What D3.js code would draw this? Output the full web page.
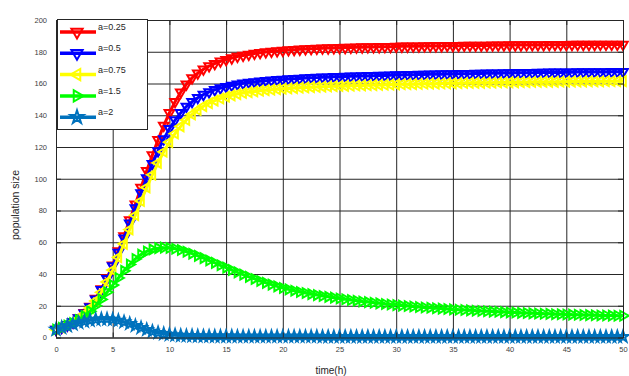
<!DOCTYPE html>
<html>
<head>
<meta charset="utf-8">
<script src="https://cdn.jsdelivr.net/npm/d3@7"></script>
<style>
  body { margin: 0; background: #fff; }
  svg { display: block; font-family: "Liberation Sans", Arial, sans-serif; }
</style>
</head>
<body>
<script>
const time = [
  0, 0.5, 1, 1.5, 2, 2.5, 3, 3.5, 4, 4.5,
  5, 5.5, 6, 6.5, 7, 7.5, 8, 8.5, 9, 9.5,
  10, 10.5, 11, 11.5, 12, 12.5, 13, 13.5, 14, 14.5,
  15, 15.5, 16, 16.5, 17, 17.5, 18, 18.5, 19, 19.5,
  20, 20.5, 21, 21.5, 22, 22.5, 23, 23.5, 24, 24.5,
  25, 25.5, 26, 26.5, 27, 27.5, 28, 28.5, 29, 29.5,
  30, 30.5, 31, 31.5, 32, 32.5, 33, 33.5, 34, 34.5,
  35, 35.5, 36, 36.5, 37, 37.5, 38, 38.5, 39, 39.5,
  40, 40.5, 41, 41.5, 42, 42.5, 43, 43.5, 44, 44.5,
  45, 45.5, 46, 46.5, 47, 47.5, 48, 48.5, 49, 49.5,
  50
]

const a025 = [
  5, 6.3, 7.8, 9.8, 12.3, 15.5, 19.5, 24.5, 30.5, 37.5,
  45.5, 54.5, 64, 74, 84, 94.5, 105, 115, 124.5, 133.5,
  141.5, 148.5, 154.5, 159.5, 163.5, 166.5, 169, 171, 172.5, 174,
  175, 176, 177, 177.7, 178.3, 178.9, 179.4, 179.8, 180.2, 180.5,
  180.8, 181.1, 181.3, 181.5, 181.7, 181.9, 182, 182.2, 182.3, 182.4,
  182.5, 182.6, 182.7, 182.8, 182.9, 183, 183, 183.1, 183.2, 183.2,
  183.3, 183.4, 183.4, 183.5, 183.5, 183.6, 183.6, 183.7, 183.7, 183.8,
  183.8, 183.8, 183.9, 183.9, 184, 184, 184, 184.1, 184.1, 184.1,
  184.2, 184.2, 184.2, 184.3, 184.3, 184.3, 184.3, 184.4, 184.4, 184.4,
  184.4, 184.5, 184.5, 184.5, 184.5, 184.5, 184.6, 184.6, 184.6, 184.6,
  184.6
]

const a05 = [
  5, 6.3, 7.8, 9.7, 12.2, 15.3, 19.2, 24, 30, 37,
  45, 53.5, 62.5, 72, 81.5, 91, 100.5, 109.5, 117.5, 125,
  131.5, 137, 141.5, 145.5, 148.5, 151, 153, 154.7, 156, 157.1,
  158, 158.8, 159.5, 160.1, 160.6, 161, 161.4, 161.7, 162, 162.3,
  162.5, 162.8, 163, 163.2, 163.4, 163.6, 163.7, 163.9, 164, 164.2,
  164.3, 164.4, 164.5, 164.6, 164.7, 164.8, 164.9, 165, 165.1, 165.2,
  165.3, 165.4, 165.5, 165.5, 165.6, 165.7, 165.8, 165.8, 165.9, 166,
  166, 166.1, 166.2, 166.2, 166.3, 166.3, 166.4, 166.5, 166.5, 166.6,
  166.6, 166.7, 166.7, 166.8, 166.8, 166.9, 166.9, 167, 167, 167,
  167.1, 167.1, 167.2, 167.2, 167.2, 167.3, 167.3, 167.3, 167.4, 167.4,
  167.4
]

const a075 = [
  5, 6.2, 7.6, 9.4, 11.8, 14.8, 18.5, 23, 28.5, 35,
  42.5, 50.5, 59, 68, 77, 86, 94.5, 102.5, 110, 117,
  123, 128.5, 133, 137, 140.5, 143.3, 145.7, 147.6, 149.2, 150.5,
  151.6, 152.5, 153.3, 154, 154.5, 155, 155.4, 155.8, 156.1, 156.4,
  156.7, 156.9, 157.1, 157.3, 157.5, 157.7, 157.8, 158, 158.1, 158.3,
  158.4, 158.5, 158.6, 158.7, 158.8, 158.9, 159, 159.1, 159.2, 159.3,
  159.4, 159.5, 159.6, 159.6, 159.7, 159.8, 159.9, 159.9, 160, 160.1,
  160.1, 160.2, 160.3, 160.3, 160.4, 160.4, 160.5, 160.5, 160.6, 160.6,
  160.7, 160.7, 160.8, 160.8, 160.9, 160.9, 161, 161, 161, 161.1,
  161.1, 161.2, 161.2, 161.2, 161.3, 161.3, 161.3, 161.4, 161.4, 161.4,
  161.5
]

const a15 = [
  5, 6.1, 7.5, 9.1, 11, 13.5, 16.5, 20, 24, 28.5,
  33, 37.5, 42, 46, 49.5, 52.2, 54.2, 55.5, 56.3, 56.6,
  56.4, 55.9, 55.1, 54, 52.8, 51.4, 50, 48.5, 47, 45.5,
  44, 42.5, 41, 39.6, 38.2, 36.9, 35.6, 34.4, 33.3, 32.2,
  31.2, 30.3, 29.5, 28.7, 28, 27.3, 26.7, 26.1, 25.6, 25.1,
  24.6, 24.1, 23.6, 23.2, 22.7, 22.3, 21.9, 21.5, 21.1, 20.8,
  20.4, 20.1, 19.8, 19.5, 19.2, 18.9, 18.7, 18.4, 18.2, 18,
  17.7, 17.5, 17.3, 17.1, 16.9, 16.7, 16.5, 16.3, 16.2, 16,
  15.8, 15.7, 15.5, 15.4, 15.2, 15.1, 15, 14.9, 14.7, 14.6,
  14.5, 14.4, 14.3, 14.2, 14.1, 14, 13.9, 13.9, 13.8, 13.7,
  13.7
]

const a2 = [
  5, 6.2, 7.3, 8.4, 9.3, 10.1, 10.8, 11.3, 11.6, 11.6,
  11.3, 10.7, 9.8, 8.7, 7.4, 6.1, 4.9, 3.8, 3, 2.3,
  1.8, 1.5, 1.2, 1.1, 1, 0.9, 0.8, 0.8, 0.7, 0.7,
  0.7, 0.7, 0.6, 0.6, 0.6, 0.6, 0.6, 0.6, 0.6, 0.6,
  0.6, 0.6, 0.6, 0.6, 0.6, 0.6, 0.6, 0.5, 0.5, 0.5,
  0.5, 0.5, 0.5, 0.5, 0.5, 0.5, 0.5, 0.5, 0.5, 0.5,
  0.5, 0.5, 0.5, 0.5, 0.5, 0.5, 0.5, 0.5, 0.5, 0.5,
  0.5, 0.5, 0.5, 0.5, 0.5, 0.5, 0.5, 0.5, 0.5, 0.5,
  0.5, 0.5, 0.5, 0.5, 0.5, 0.5, 0.5, 0.5, 0.5, 0.5,
  0.5, 0.5, 0.5, 0.5, 0.5, 0.5, 0.5, 0.5, 0.5, 0.5,
  0.5
]

const seriesNames = ['a=0.25', 'a=0.5', 'a=0.75', 'a=1.5', 'a=2']
const seriesValues = [a025, a05, a075, a15, a2]
const seriesColors = ['#ff0000', '#0000ff', '#ffff00', '#00ff00', '#0072bd']
const xTicks = [0, 5, 10, 15, 20, 25, 30, 35, 40, 45, 50]
const yTicks = [0, 20, 40, 60, 80, 100, 120, 140, 160, 180, 200]

// marker shape + rotation per series (v, v, <, >, pentagram)
const markers = [
  { type: d3.symbolTriangle, rot: 180, size: 40 },
  { type: d3.symbolTriangle, rot: 180, size: 40 },
  { type: d3.symbolTriangle, rot: -90, size: 40 },
  { type: d3.symbolTriangle, rot: 90, size: 40 },
  { type: d3.symbolStar, rot: 0, size: 38 },
]

const W = 629, H = 376
const PLOT = { LEFT: 56, RIGHT: 623, TOP: 20, BOTTOM: 337.5 }
const AXIS_COLOR = '#262626'

const svg = d3.select('body').append('svg')
  .attr('width', W)
  .attr('height', H)

const x = d3.scaleLinear().domain([0, 50]).range([PLOT.LEFT, PLOT.RIGHT])
const y = d3.scaleLinear().domain([0, 200]).range([PLOT.BOTTOM, PLOT.TOP])

// grid
svg.append('g')
    .attr('transform', `translate(0, ${PLOT.BOTTOM})`)
  .call(d3.axisBottom(x).tickValues(xTicks).tickSize(-(PLOT.BOTTOM - PLOT.TOP)).tickFormat(''))
  .call(g => g.select('.domain').remove())
  .selectAll('line').attr('stroke', '#dedede')

svg.append('g')
    .attr('transform', `translate(${PLOT.LEFT}, 0)`)
  .call(d3.axisLeft(y).tickValues(yTicks).tickSize(-(PLOT.RIGHT - PLOT.LEFT)).tickFormat(''))
  .call(g => g.select('.domain').remove())
  .selectAll('line').attr('stroke', '#dedede')

// series: line + markers
const line = d3.line()
  .x((d, i) => x(time[i]))
  .y(d => y(d))

seriesValues.forEach((vals, k) => {
  const g = svg.append('g').attr('class', 'series')
  g.append('path')
    .datum(vals)
    .attr('d', line)
    .attr('fill', 'none')
    .attr('stroke', seriesColors[k])
    .attr('stroke-width', 3)
  const sym = d3.symbol().type(markers[k].type).size(markers[k].size)
  g.selectAll('path.mk')
    .data(vals)
    .enter()
    .append('path')
      .attr('class', 'mk')
      .attr('d', sym)
      .attr('transform', (d, i) => `translate(${x(time[i])}, ${y(d)}) rotate(${markers[k].rot})`)
      .attr('fill', 'none')
      .attr('stroke', seriesColors[k])
      .attr('stroke-width', 2)
})

// axes (inward ticks, MATLAB-like box)
svg.append('g')
    .attr('transform', `translate(0, ${PLOT.BOTTOM})`)
  .call(d3.axisBottom(x).tickValues(xTicks).tickSizeInner(-5).tickSizeOuter(0).tickPadding(9))
svg.append('g')
    .attr('transform', `translate(0, ${PLOT.TOP})`)
  .call(d3.axisTop(x).tickValues(xTicks).tickSizeInner(-5).tickSizeOuter(0).tickFormat(''))
svg.append('g')
    .attr('transform', `translate(${PLOT.LEFT}, 0)`)
  .call(d3.axisLeft(y).tickValues(yTicks).tickSizeInner(-5).tickSizeOuter(0).tickPadding(9))
svg.append('g')
    .attr('transform', `translate(${PLOT.RIGHT}, 0)`)
  .call(d3.axisRight(y).tickValues(yTicks).tickSizeInner(-5).tickSizeOuter(0).tickFormat(''))

svg.selectAll('.domain, .tick line').attr('stroke', AXIS_COLOR)
svg.selectAll('.tick text')
  .attr('fill', '#404040')
  .attr('font-size', '7.5px')
  .attr('font-family', '"Liberation Sans", Arial, sans-serif')

// axis labels
svg.append('text')
  .text('time(h)')
  .attr('x', 331)
  .attr('y', 374)
  .attr('text-anchor', 'middle')
  .attr('font-size', '10px')
  .attr('fill', '#262626')

svg.append('text')
  .text('population size')
  .attr('transform', 'translate(19, 205) rotate(-90)')
  .attr('text-anchor', 'middle')
  .attr('font-size', '10.5px')
  .attr('fill', '#262626')

// legend
const legend = svg.append('g').attr('id', 'legend')
legend.append('rect')
  .attr('x', 57.5)
  .attr('y', 19.5)
  .attr('width', 90)
  .attr('height', 110)
  .attr('fill', '#fff')
  .attr('stroke', AXIS_COLOR)

seriesNames.forEach((name, k) => {
  const ly = 32 + k * 21.3
  legend.append('line')
    .attr('x1', 60).attr('x2', 96)
    .attr('y1', ly).attr('y2', ly)
    .attr('stroke', seriesColors[k])
    .attr('stroke-width', 3.5)
  legend.append('path')
    .attr('d', d3.symbol().type(markers[k].type).size(markers[k].size + 15))
    .attr('transform', `translate(77, ${ly}) rotate(${markers[k].rot})`)
    .attr('fill', 'none')
    .attr('stroke', seriesColors[k])
    .attr('stroke-width', 2)
  legend.append('text')
    .text(name)
    .attr('x', 98)
    .attr('y', ly - 2)
    .attr('font-size', '9px')
    .attr('fill', '#262626')
})
</script>
</body>
</html>
